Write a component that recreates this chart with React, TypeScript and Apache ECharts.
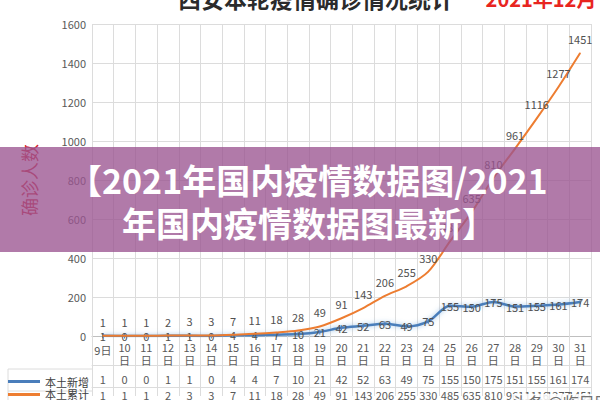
import * as echarts from 'echarts';
import React, { useEffect, useRef } from 'react';

const days = [
  '9日', '10日', '11日', '12日', '13日', '14日', '15日', '16日', '17日', '18日', '19日', '20日',
  '21日', '22日', '23日', '24日', '25日', '26日', '27日', '28日', '29日', '30日', '31日',
];
const newCases = [1, 0, 0, 1, 1, 0, 4, 4, 7, 10, 21, 42, 52, 63, 49, 75, 155, 150, 175, 151, 155, 161, 174];
const totalCases = [1, 1, 1, 2, 3, 3, 7, 11, 18, 28, 49, 91, 143, 206, 255, 330, 485, 635, 810, 961, 1116, 1277, 1451];
const seriesNames = ['本土新增', '本土累计'];
const yMin = 0;
const yMax = 1600;
const yStep = 200;

const FONT = "'Noto Sans CJK SC', 'Noto Sans', sans-serif";
const GRID_COLOR = '#dcdcdc';
const TEXT_COLOR = '#595959';

const App: React.FC = () => {
  const ref = useRef<HTMLDivElement>(null);
  const chart = useRef<echarts.ECharts>();

  useEffect(() => {
    chart.current = echarts.init(ref.current, undefined, { renderer: 'svg' });
    chart.current.setOption({
      animation: false,
      textStyle: { fontFamily: FONT },
      grid: { left: 92, right: 9, top: 24, bottom: 60 },
      legend: {
        data: seriesNames,
        orient: 'vertical',
        left: 8,
        top: 376,
        padding: 0,
        itemGap: 2,
        itemWidth: 32,
        itemHeight: 3,
        icon: 'rect',
        textStyle: { fontSize: 11, color: '#404040' },
      },
      xAxis: [
        {
          type: 'category',
          data: days,
          boundaryGap: true,
          axisLine: { lineStyle: { color: '#bfbfbf' } },
          axisTick: { show: true, interval: 0, length: 60, lineStyle: { color: GRID_COLOR } },
          splitLine: { show: true, interval: 0, lineStyle: { color: GRID_COLOR } },
          axisLabel: {
            interval: 0,
            margin: 4,
            fontSize: 11,
            lineHeight: 13,
            color: TEXT_COLOR,
            formatter: (v: string, i: number) =>
              i === 0 ? `{a|${v}}` : v.replace('日', '\n日'),
            rich: { a: { fontSize: 11, color: TEXT_COLOR, padding: [7, 0, 0, 0] } },
          },
        },
        {
          type: 'category',
          data: newCases.map(String),
          position: 'bottom',
          offset: 29,
          axisLine: { lineStyle: { color: GRID_COLOR } },
          axisTick: { show: false },
          axisLabel: { interval: 0, margin: 8, fontSize: 11, color: TEXT_COLOR },
        },
        {
          type: 'category',
          data: totalCases.map(String),
          position: 'bottom',
          offset: 51,
          axisLine: { lineStyle: { color: GRID_COLOR } },
          axisTick: { show: false },
          axisLabel: { interval: 0, margin: 2, fontSize: 11, color: TEXT_COLOR },
        },
      ],
      yAxis: {
        type: 'value',
        min: yMin,
        max: yMax,
        interval: yStep,
        name: '确诊人数',
        nameLocation: 'middle',
        nameRotate: 90,
        nameGap: 54,
        nameTextStyle: { color: '#d6262d', fontSize: 18 },
        axisLine: { show: false },
        axisTick: { show: false },
        axisLabel: {
          fontSize: 11,
          color: TEXT_COLOR,
          margin: 6,
          formatter: (v: number) => String(v),
        },
        splitLine: { lineStyle: { color: GRID_COLOR } },
      },
      series: [
        {
          name: seriesNames[0],
          type: 'line',
          data: newCases,
          smooth: 0.3,
          symbol: 'rect',
          symbolSize: [1, 5],
          color: '#4a7ebb',
          lineStyle: {
            width: 2.5,
            color: '#4a7ebb',
            shadowColor: 'rgba(91,155,213,0.6)',
            shadowBlur: 5,
          },
          label: { show: true, position: 'inside', fontSize: 11, color: '#505050' },
          z: 2,
        },
        {
          name: seriesNames[1],
          type: 'line',
          data: totalCases,
          smooth: 0.3,
          symbol: 'circle',
          symbolSize: 1,
          color: '#ed7d31',
          lineStyle: { width: 2, color: '#ed7d31' },
          label: { show: true, position: 'top', distance: 8, fontSize: 11, color: '#505050' },
          z: 3,
        },
      ],
      graphic: [
        { type: 'line', shape: { x1: 8, y1: 369, x2: 92, y2: 369 }, style: { stroke: GRID_COLOR } },
        { type: 'line', shape: { x1: 8, y1: 391, x2: 92, y2: 391 }, style: { stroke: GRID_COLOR } },
        { type: 'line', shape: { x1: 8, y1: 369, x2: 8, y2: 400 }, style: { stroke: GRID_COLOR } },
        {
          type: 'text',
          x: 316,
          y: -2,
          style: {
            text: '西安本轮疫情确诊情况统计',
            font: `bold 23px ${FONT}`,
            fill: '#2b2b2b',
            textAlign: 'center',
            textVerticalAlign: 'middle',
          },
        },
        {
          type: 'text',
          x: 541,
          y: -2,
          style: {
            text: '2021年12月',
            font: `bold 20px ${FONT}`,
            fill: '#e8251f',
            textAlign: 'center',
            textVerticalAlign: 'middle',
          },
        },
        {
          type: 'text',
          x: 512,
          y: 402,
          z: 50,
          style: {
            text: '头条 @临目网络',
            font: `16px ${FONT}`,
            fill: '#707070',
            backgroundColor: 'rgba(255,255,255,0.85)',
            textVerticalAlign: 'middle',
          },
        },
        {
          type: 'rect',
          z: 100,
          shape: { x: 0, y: 147, width: 600, height: 105 },
          style: { fill: 'rgba(155,85,145,0.78)' },
        },
        {
          type: 'text',
          z: 101,
          x: 68,
          y: 179,
          style: {
            text: '【2021年国内疫情数据图/2021',
            font: `bold 34px ${FONT}`,
            fill: '#ffffff',
            textVerticalAlign: 'middle',
          },
        },
        {
          type: 'text',
          z: 101,
          x: 122,
          y: 222,
          style: {
            text: '年国内疫情数据图最新】',
            font: `bold 34px ${FONT}`,
            fill: '#ffffff',
            textVerticalAlign: 'middle',
          },
        },
      ],
    });

    return () => {
      chart.current?.dispose();
    };
  }, []);

  return (
    <div
      ref={ref}
      style={{ position: 'absolute', left: 0, top: 0, width: 600, height: 400, background: '#fff' }}
    ></div>
  );
};

export default App;
